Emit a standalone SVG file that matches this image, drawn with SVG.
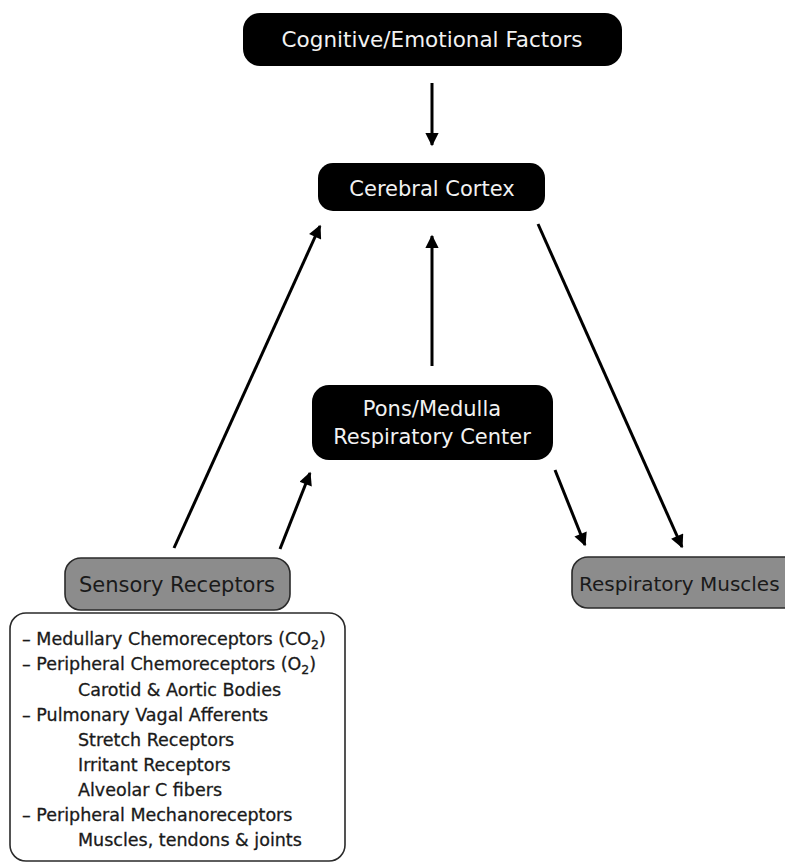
<svg xmlns="http://www.w3.org/2000/svg" width="785" height="867" viewBox="0 0 785 867">
  <style>
    .dark { fill: #000; }
    .grey { fill: #8c8c8c; stroke: #2a2a2a; stroke-width: 1.6; }
    .list { fill: #fff; stroke: #2a2a2a; stroke-width: 1.6; }
    .lbl { font-family: "DejaVu Sans", Verdana, sans-serif; font-size: 21px; text-anchor: middle; }
    .white { fill: #f2f2f2; }
    .ink { fill: #1a1a1a; }
    .item { font-family: "DejaVu Sans", Verdana, sans-serif; font-size: 17.5px; fill: #1a1a1a; stroke: #1a1a1a; stroke-width: 0.3; }
    .conn line { stroke: #000; stroke-width: 3; marker-end: url(#head); }
  </style>
  <defs>
    <marker id="head" viewBox="0 0 10 10" refX="9" refY="5" markerWidth="5" markerHeight="4.4" orient="auto" markerUnits="strokeWidth">
      <path d="M0,0 L10,5 L0,10 Z" fill="#000"/>
    </marker>
  </defs>
  <rect width="785" height="867" fill="#fff"/>

  <!-- connectors -->
  <g class="conn">
    <line x1="432" y1="83" x2="432" y2="145"/>
    <line x1="432" y1="366" x2="432" y2="236"/>
    <line x1="174" y1="548" x2="320" y2="226"/>
    <line x1="280" y1="549" x2="310" y2="473"/>
    <line x1="555" y1="470" x2="585" y2="545"/>
    <line x1="538" y1="224" x2="682" y2="547"/>
  </g>

  <g id="cognitive">
    <rect class="dark" x="243" y="13" width="379" height="53" rx="17"/>
    <text class="lbl white" x="432" y="47" style="font-size:21.5px">Cognitive/Emotional Factors</text>
  </g>

  <g id="cortex">
    <rect class="dark" x="318" y="163" width="227" height="48" rx="15"/>
    <text class="lbl white" x="432" y="196">Cerebral Cortex</text>
  </g>

  <g id="pons">
    <rect class="dark" x="312" y="385" width="241" height="75" rx="17"/>
    <text class="lbl white" x="432" y="416">Pons/Medulla</text>
    <text class="lbl white" x="432" y="444">Respiratory Center</text>
  </g>

  <g id="sensory">
    <rect class="grey" x="65" y="558" width="225" height="52" rx="16"/>
    <text class="lbl ink" x="177" y="592">Sensory Receptors</text>
  </g>

  <g id="muscles">
    <rect class="grey" x="572" y="557" width="230" height="51" rx="16"/>
    <text class="lbl ink" x="579" y="591" style="text-anchor:start;font-size:20px">Respiratory Muscles</text>
  </g>

  <g id="receptor-list">
    <rect class="list" x="10" y="613" width="335" height="248" rx="16"/>
    <text class="item" x="22" y="645">– Medullary Chemoreceptors (CO<tspan font-size="12.5" dy="4">2</tspan><tspan dy="-4">)</tspan></text>
    <text class="item" x="22" y="670">– Peripheral Chemoreceptors (O<tspan font-size="12.5" dy="4">2</tspan><tspan dy="-4">)</tspan></text>
    <text class="item" x="78" y="696">Carotid &amp; Aortic Bodies</text>
    <text class="item" x="22" y="721">– Pulmonary Vagal Afferents</text>
    <text class="item" x="78" y="746">Stretch Receptors</text>
    <text class="item" x="78" y="771">Irritant Receptors</text>
    <text class="item" x="78" y="796">Alveolar C fibers</text>
    <text class="item" x="22" y="821">– Peripheral Mechanoreceptors</text>
    <text class="item" x="78" y="846">Muscles, tendons &amp; joints</text>
  </g>
</svg>
